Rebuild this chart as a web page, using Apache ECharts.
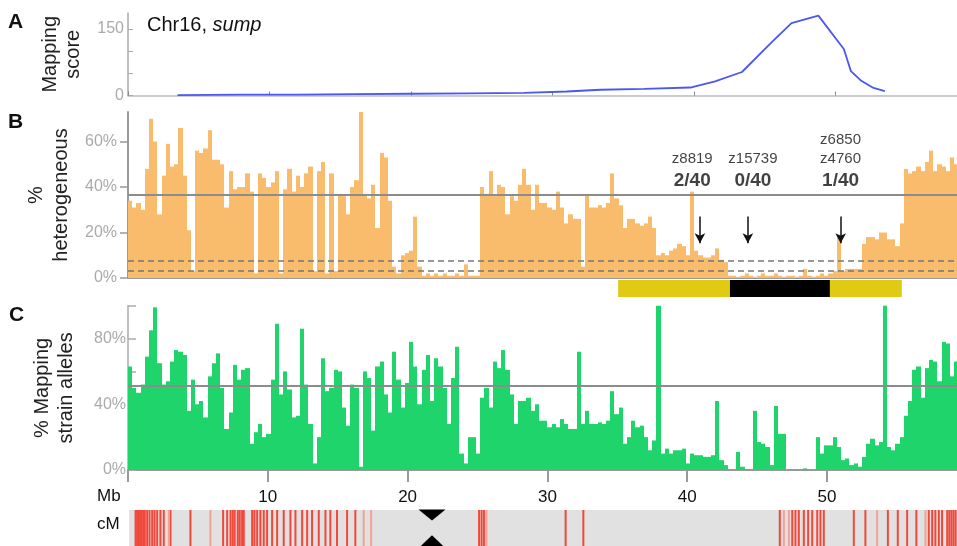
<!DOCTYPE html>
<html>
<head>
<meta charset="utf-8">
<script src="https://cdn.jsdelivr.net/npm/echarts@6/dist/echarts.min.js"></script>
<style>
html, body { margin: 0; padding: 0; background: #fff; }
#main { width: 957px; height: 546px; }
</style>
</head>
<body>
<div id="main"></div>
<script>
const BIN_MB = 0.3;       // bin size of panels B and C
const CHR_END_MB = 59.3;  // end of Chr16 axis

// A: mapping score
const scoreMb  = [3.5, 8, 12, 16, 20, 24, 28, 31, 33.4, 36.5, 39.75, 41.5, 43.4, 45.4, 46.9, 48.8, 50.6, 51.1, 51.8, 52.7, 53.5];
const scoreVal = [1, 2, 2, 3, 4, 5, 6, 9, 13, 15, 18, 32, 53, 117, 163, 180, 105, 55, 34, 17, 10];

// B: % heterogeneous, one value per 0.3 Mb bin
const hetPct = [
  34, 31, 33, 30, 48, 70, 60, 28, 45, 59, 49, 50, 66, 45, 21, 3, 56, 55, 57, 65,
  52, 52, 50, 31, 47, 39, 40, 40, 46, 38, 2, 46, 44, 40, 42, 47, 2, 39, 48, 38,
  45, 40, 46, 49, 3, 47, 51, 2, 46, 3, 37, 36, 28, 40, 43, 73, 37, 35, 41, 22,
  55, 53, 34, 5, 2, 10, 11, 12, 27, 5, 1, 2, 1, 2, 1, 2, 1, 1, 2, 1,
  6, 1, 1, 1, 40, 37, 47, 36, 41, 40, 28, 36, 34, 41, 48, 41, 30, 41, 33, 33,
  31, 30, 38, 31, 24, 28, 26, 26, 5, 37, 31, 31, 32, 31, 33, 46, 35, 32, 22, 26,
  26, 24, 23, 24, 27, 22, 10, 11, 10, 12, 13, 15, 14, 10, 38, 12, 10, 9, 9, 10,
  13, 8, 7, 1, 1, 0.5, 1, 2, 1, 0.5, 1, 2, 1, 1, 2, 1, 0.5, 1, 1, 0.5,
  1, 4, 1, 0.5, 1, 2, 1, 2, 3, 19, 3, 4, 4, 4, 4, 15, 18, 18, 17, 20,
  20, 17, 17, 14, 24, 48, 46, 47, 49, 47, 51, 56, 47, 50, 49, 47, 53, 50
];

// C: % mapping strain alleles, same bins
const mapPct = [
  63, 50, 47, 52, 69, 85, 99, 65, 52, 54, 66, 73, 72, 70, 36, 55, 40, 42, 32, 57,
  65, 71, 50, 25, 35, 64, 55, 61, 62, 16, 23, 28, 20, 22, 55, 89, 46, 60, 49, 32,
  33, 86, 52, 28, 4, 20, 68, 48, 50, 61, 60, 38, 27, 52, 50, 2, 60, 56, 24, 63,
  66, 46, 35, 72, 55, 38, 53, 78, 63, 40, 61, 70, 42, 68, 63, 50, 28, 56, 75, 10,
  4, 20, 20, 10, 44, 50, 38, 66, 62, 73, 61, 46, 28, 42, 42, 44, 36, 40, 30, 30,
  26, 28, 26, 31, 28, 25, 25, 72, 28, 36, 28, 28, 29, 28, 30, 48, 34, 38, 16, 20,
  30, 26, 27, 20, 12, 18, 100, 10, 13, 10, 12, 12, 13, 4, 10, 9, 9, 8, 8, 9,
  42, 6, 3, 0, 0, 11, 2, 0, 0, 36, 17, 16, 14, 3, 39, 22, 22, 0, 0, 0,
  0, 1, 0, 0, 20, 10, 15, 15, 20, 14, 6, 7, 3, 4, 2, 8, 16, 19, 15, 17,
  100, 14, 12, 16, 20, 33, 42, 61, 63, 44, 62, 67, 66, 54, 78, 77, 57, 66
];

const hetThreshold = 36.6;
const hetDashed = [7.6, 3.2];
const mapThreshold = 51.5;

// markers and recombinants
const markerNames = ['z8819', 'z15739', 'z6850\nz4760'];
const markerRecomb = ['2/40', '0/40', '1/40'];
const markerArrowMb = [40.91, 44.34, 50.98];
const markerLabelMb = [40.36, 44.7, 50.97];

// candidate interval (yellow) and core (black)
const intervalStart = [35.06, 43.06, 50.21];
const intervalEnd   = [43.06, 50.21, 55.35];
const intervalCore  = [0, 1, 0];

// cM strip: positions of genetic markers (Mb)
const cMMb = [0.47, 0.58, 0.65, 0.78, 0.87, 1.01, 1.13, 1.30, 1.47, 1.66, 1.83, 2.02, 2.25, 2.49, 2.97,
  4.40, 6.74, 7.03, 7.27, 7.43, 7.57, 7.79, 7.93, 8.10, 8.22, 8.82, 8.98, 9.18, 9.41, 9.65, 9.89,
  10.25, 10.61, 11.08, 11.56, 11.92, 12.40, 12.76, 13.11, 13.59, 14.07, 14.42, 14.90, 15.62, 16.21,
  25.07, 25.25, 25.42, 31.27, 32.54,
  46.61, 47.5, 47.73, 47.97, 48.33, 48.64, 48.93, 49.29, 49.52, 49.76,
  51.91, 52.74, 54.35, 55.06, 55.73, 56.39, 57.28, 57.52, 57.75, 58.0, 58.23,
  58.6, 58.75, 58.9, 59.05, 59.2];
const cMLightMb = [2.85, 5.83, 16.81, 17.34, 25.6, 46.9, 47.26, 53.58, 57.04];
const centromereMb = 21.7;

const FONT = "'Liberation Sans', Arial, sans-serif";

const hiddenX = (grid, max) => ({
  gridIndex: grid, type: 'value', min: 0, max: max,
  axisLine: { show: false }, axisTick: { show: false }, axisLabel: { show: false }, splitLine: { show: false }
});
const hiddenY = grid => ({
  gridIndex: grid, type: 'value', min: 0, max: 1,
  axisLine: { show: false }, axisTick: { show: false }, axisLabel: { show: false }, splitLine: { show: false }
});

// binned histogram drawn as touching rects (snapped to whole pixels so no seams)
const binBars = (name, grid, arr, color, markLine) => ({
  name: name, type: 'custom', xAxisIndex: grid, yAxisIndex: grid,
  data: arr.map((v, i) => [i * BIN_MB, (i + 1) * BIN_MB, v]),
  encode: { x: [0, 1], y: 2 },
  renderItem: function (params, api) {
    const p0 = api.coord([api.value(0), api.value(2)]);
    const p1 = api.coord([api.value(1), 0]);
    const x0 = Math.round(p0[0]);
    const x1 = Math.round(p1[0]);
    return {
      type: 'rect',
      shape: { x: x0, y: p0[1], width: x1 - x0, height: p1[1] - p0[1] },
      style: { fill: color, stroke: null }
    };
  },
  markLine: markLine
});

let option = {
  animation: false,
  backgroundColor: '#fff',
  textStyle: { fontFamily: FONT },
  grid: [
    { left: 128, right: 0, top: 13, height: 82.5, outerBoundsMode: 'none' },   // A
    { left: 128, right: 0, top: 112, height: 166, outerBoundsMode: 'none' },   // B
    { left: 128, right: 0, top: 280, height: 17, outerBoundsMode: 'none' },    // interval
    { left: 128, right: 0, top: 305.7, height: 164.3, outerBoundsMode: 'none' }, // C
    { left: 129, right: 0, top: 510, height: 36, outerBoundsMode: 'none',
      show: true, backgroundColor: '#e1e1e1', borderWidth: 0 }                // cM
  ],
  xAxis: [
    {
      gridIndex: 0, type: 'value', min: 0, max: 58.6, interval: 10,
      axisLine: { lineStyle: { color: '#bbb', width: 1.5 } },
      axisTick: { inside: true, length: 4, lineStyle: { color: '#888' } },
      axisLabel: { show: false }, splitLine: { show: false }
    },
    {
      gridIndex: 1, type: 'value', min: 0, max: CHR_END_MB,
      axisLine: { lineStyle: { color: '#999', width: 2 } },
      axisTick: { show: false }, axisLabel: { show: false }, splitLine: { show: false }
    },
    hiddenX(2, CHR_END_MB),
    {
      gridIndex: 3, type: 'value', min: 0, max: CHR_END_MB, interval: 10,
      axisLine: { lineStyle: { color: '#999', width: 2 } },
      axisTick: { length: 12, lineStyle: { color: '#999', width: 2 } },
      axisLabel: {
        color: '#111', fontSize: 17, margin: 19, showMaxLabel: false,
        formatter: v => (v === 0 ? '' : v)
      },
      splitLine: { show: false }
    },
    hiddenX(4, CHR_END_MB)
  ],
  yAxis: [
    {
      gridIndex: 0, type: 'value', min: 0, max: 186, interval: 50,
      name: 'Mapping\nscore', nameLocation: 'middle', nameRotate: 90, nameGap: 43,
      nameTextStyle: { color: '#222', fontSize: 20, lineHeight: 23 },
      axisLine: { show: true, lineStyle: { color: '#aaa', width: 1.5 } },
      axisTick: { show: true, inside: true, length: 5, lineStyle: { color: '#aaa' } },
      axisLabel: { color: '#aaa', fontSize: 16, margin: 4, showMaxLabel: false,
        formatter: v => (v === 0 || v === 150 ? v : '') },
      splitLine: { show: false }
    },
    {
      gridIndex: 1, type: 'value', min: 0, max: 73, interval: 20,
      name: '%\nheterogeneous', nameLocation: 'middle', nameRotate: 90, nameGap: 52,
      nameTextStyle: { color: '#222', fontSize: 20, lineHeight: 25 },
      axisLine: { show: true, lineStyle: { color: '#999', width: 2 } },
      axisTick: { show: true, length: 8, lineStyle: { color: '#999', width: 1.5 } },
      axisLabel: { color: '#aaa', fontSize: 16, margin: 11, showMaxLabel: false,
        formatter: v => v + '%' },
      splitLine: { show: false }
    },
    hiddenY(2),
    {
      gridIndex: 3, type: 'value', min: 0, max: 100, interval: 20,
      name: '% Mapping\nstrain alleles', nameLocation: 'middle', nameRotate: 90, nameGap: 50,
      nameTextStyle: { color: '#222', fontSize: 20, lineHeight: 24 },
      axisLine: { show: true, lineStyle: { color: '#aaa', width: 1.5 } },
      axisTick: { show: true, inside: true, length: 8, lineStyle: { color: '#aaa', width: 1.5 } },
      axisLabel: { color: '#aaa', fontSize: 16, margin: 2,
        formatter: v => (v % 40 === 0 && v < 100 ? v + '%' : '') },
      splitLine: { show: false }
    },
    hiddenY(4)
  ],
  graphic: [
    { type: 'text', left: 8, top: 12, style: { text: 'A', font: 'bold 21px ' + FONT, fill: '#111' } },
    { type: 'text', left: 8, top: 112, style: { text: 'B', font: 'bold 21px ' + FONT, fill: '#111' } },
    { type: 'text', left: 9, top: 305, style: { text: 'C', font: 'bold 21px ' + FONT, fill: '#111' } },
    {
      type: 'text', left: 147, top: 15,
      style: {
        text: '{n|Chr16, }{i|sump}',
        rich: {
          n: { fontSize: 20, fontFamily: FONT, fill: '#111' },
          i: { fontSize: 20, fontFamily: FONT, fontStyle: 'italic', fill: '#111' }
        }
      }
    },
    { type: 'text', left: 97, top: 488, style: { text: 'Mb', font: '17px ' + FONT, fill: '#111' } },
    { type: 'text', left: 97, top: 516, style: { text: 'cM', font: '17px ' + FONT, fill: '#111' } }
  ],
  series: [
    {
      name: 'Mapping score', type: 'line', xAxisIndex: 0, yAxisIndex: 0,
      data: scoreMb.map((m, i) => [m, scoreVal[i]]),
      showSymbol: false, symbol: 'none',
      lineStyle: { color: '#4b57ef', width: 1.8 }
    },
    binBars('heterogeneous', 1, hetPct, '#f9bc6c', {
      silent: true, symbol: 'none', label: { show: false },
      data: [
        { yAxis: hetThreshold, lineStyle: { color: '#8c8c8c', width: 2, type: 'solid' } },
        ...hetDashed.map(v => ({ yAxis: v, lineStyle: { color: '#777', width: 1.5, type: [6, 4] } }))
      ]
    }),
    {
      name: 'markers', type: 'scatter', xAxisIndex: 1, yAxisIndex: 1,
      data: markerLabelMb.map(m => [m, 37.5]),
      symbolSize: 0,
      label: {
        show: true, position: 'top', distance: 0, color: '#111', align: 'center',
        formatter: p => markerNames[p.dataIndex].split('\n').map(n => '{a|' + n + '}').join('\n') +
          '\n{b|' + markerRecomb[p.dataIndex] + '}',
        rich: {
          a: { fontSize: 15, lineHeight: 19, fontFamily: FONT, color: '#111', align: 'center' },
          b: { fontSize: 19, lineHeight: 24, fontWeight: 'bold', fontFamily: FONT, color: '#111', align: 'center' }
        }
      },
      markLine: {
        silent: true, symbol: ['none', 'arrow'], symbolSize: [8, 10], label: { show: false },
        lineStyle: { color: '#111', width: 1.5, type: 'solid' },
        data: markerArrowMb.map(m => [{ coord: [m, 27] }, { coord: [m, 15.3] }])
      }
    },
    {
      name: 'interval', type: 'custom', xAxisIndex: 2, yAxisIndex: 2,
      data: intervalStart.map((s, i) => [s, intervalEnd[i], intervalCore[i]]),
      encode: { x: [0, 1] },
      renderItem: function (params, api) {
        const p0 = api.coord([api.value(0), 1]);
        const p1 = api.coord([api.value(1), 0]);
        return {
          type: 'rect',
          shape: { x: p0[0], y: p0[1], width: p1[0] - p0[0], height: p1[1] - p0[1] },
          style: { fill: api.value(2) === 1 ? '#000' : '#e0ca14' }
        };
      }
    },
    binBars('mapping alleles', 3, mapPct, '#1fd46b', {
      silent: true, symbol: 'none', label: { show: false },
      data: [{ yAxis: mapThreshold, lineStyle: { color: '#8c8c8c', width: 2, type: 'solid' } }]
    }),
    {
      name: 'cM', type: 'scatter', xAxisIndex: 4, yAxisIndex: 4,
      data: cMMb.map(m => [m, 0.5]),
      symbol: 'rect', symbolSize: [2, 36],
      itemStyle: { color: '#f2473a', opacity: 1 }
    },
    {
      name: 'cM light', type: 'scatter', xAxisIndex: 4, yAxisIndex: 4,
      data: cMLightMb.map(m => [m, 0.5]),
      symbol: 'rect', symbolSize: [2, 36],
      itemStyle: { color: '#f5a197', opacity: 1 }
    },
    {
      name: 'centromere', type: 'scatter', xAxisIndex: 4, yAxisIndex: 4, z: 5,
      data: [
        { value: [centromereMb, 0.86], symbolRotate: 180, symbolSize: [27, 11] },
        { value: [centromereMb, 0.12], symbolRotate: 0, symbolSize: [27, 13] }
      ],
      symbol: 'triangle',
      itemStyle: { color: '#000', opacity: 1 }
    }
  ]
};

let myChart = echarts.init(document.getElementById('main'));
myChart.setOption(option);
</script>
</body>
</html>
